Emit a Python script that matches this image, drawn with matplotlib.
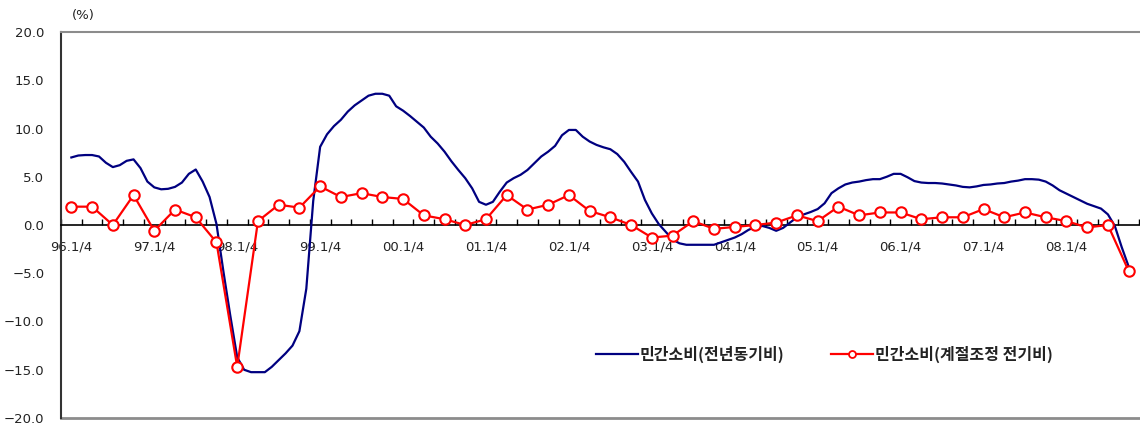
import numpy as np
import matplotlib.pyplot as plt

# years shown on the category axis (one label per Q1)
years = ['96', '97', '98', '99', '00', '01', '02', '03', '04', '05', '06', '07', '08']
tick_labels = [y + '.1/4' for y in years]

# 민간소비 계절조정 전기비, quarterly 96Q1 - 08Q4
qoq = [1.9, 1.9, 0.0, 3.1,
       -0.6, 1.6, 0.8, -1.8,
       -14.7, 0.4, 2.1, 1.8,
       4.0, 2.9, 3.3, 2.9,
       2.7, 1.0, 0.6, 0.0,
       0.6, 3.1, 1.6, 2.1,
       3.1, 1.45, 0.8, 0.0,
       -1.3, -1.1, 0.4, -0.4,
       -0.2, 0.0, 0.25, 1.0,
       0.4, 1.9, 1.0, 1.3,
       1.3, 0.6, 0.8, 0.8,
       1.65, 0.8, 1.3, 0.8,
       0.4, -0.25, 0.0, -4.75]

# 민간소비 전년동기비, monthly 96.3 - 08.12
yoy = [7.0, 7.2, 7.25, 7.25, 7.1, 6.45, 6.0, 6.2, 6.65, 6.8,
       5.9, 4.5, 3.9, 3.7, 3.75, 3.95, 4.4, 5.3, 5.75, 4.5,
       2.9, 0.1, -4.8, -9.4, -13.7, -15.0, -15.25, -15.25, -15.25, -14.7,
       -14.0, -13.3, -12.5, -11.0, -6.6, 2.5, 8.1, 9.4, 10.25, 10.9,
       11.75, 12.4, 12.9, 13.4, 13.6, 13.6, 13.4, 12.3, 11.85, 11.3,
       10.7, 10.1, 9.15, 8.45, 7.6, 6.6, 5.7, 4.85, 3.8, 2.4,
       2.1, 2.4, 3.45, 4.4, 4.85, 5.2, 5.7, 6.4, 7.1, 7.6,
       8.2, 9.3, 9.85, 9.85, 9.15, 8.65, 8.3, 8.05, 7.85, 7.35,
       6.55, 5.5, 4.5, 2.6, 1.2, 0.1, -0.7, -1.5, -1.9, -2.05,
       -2.05, -2.05, -2.05, -2.05, -1.8, -1.55, -1.3, -0.95, -0.5, -0.2,
       -0.1, -0.3, -0.6, -0.3, 0.25, 0.8, 1.1, 1.35, 1.65, 2.25,
       3.3, 3.8, 4.2, 4.4, 4.5, 4.65, 4.75, 4.75, 5.0, 5.3,
       5.3, 4.95, 4.55, 4.4, 4.35, 4.35, 4.3, 4.2, 4.1, 3.95,
       3.9, 4.0, 4.15, 4.2, 4.3, 4.35, 4.5, 4.6, 4.75, 4.75,
       4.7, 4.5, 4.1, 3.6, 3.25, 2.9, 2.55, 2.2, 1.95, 1.7,
       1.1, -0.1, -2.3, -4.3]

label_yoy = '민간소비(전년동기비)'
label_qoq = '민간소비(계절조정 전기비)'

x_q = np.arange(len(qoq))
x_m = np.arange(len(yoy)) / 3.0

fig = plt.figure(figsize=(11.4, 4.29), dpi=100)
ax = fig.add_axes([61 / 1140, 11 / 429, 1078 / 1140, 386 / 429])

ax.plot(x_m, yoy, color='#000080', lw=1.6, label=label_yoy, zorder=3)
ax.plot(x_q, qoq, color='#ff0000', lw=1.6, marker='o', ms=7.5, mfc='white',
        mec='#ff0000', mew=1.5, label=label_qoq, zorder=4)

ax.set_xlim(-0.5, len(qoq) - 0.5)
ax.set_ylim(-20, 20)

# y axis
ax.set_yticks(np.arange(-20, 21, 5))
ax.set_yticklabels([f'{v:.1f}'.replace('-', '\u2212') for v in np.arange(-20, 21, 5)])
ax.tick_params(axis='y', length=0, pad=12, labelsize=9.5, labelcolor='#222222')

# x axis sits on zero, small ticks between quarters
ax.spines['bottom'].set_position(('data', 0))
ax.spines['bottom'].set_color('black')
ax.spines['bottom'].set_linewidth(1.2)
ax.set_xticks(np.arange(0, len(qoq), 4))
ax.set_xticklabels(tick_labels)
ax.set_xticks(np.arange(-0.5, len(qoq), 1), minor=True)
ax.tick_params(axis='x', which='major', length=0, pad=11, labelsize=9.5,
               labelcolor='#222222')
ax.tick_params(axis='x', which='minor', length=4, width=1, direction='in',
               color='black')

ax.spines['left'].set_color('#333333')
ax.spines['left'].set_linewidth(1.5)
ax.spines['top'].set_color('#8c8c8c')
ax.spines['top'].set_linewidth(1.5)
ax.spines['right'].set_visible(False)
ax.axhline(-20, color='#8c8c8c', lw=2, clip_on=False, zorder=1)

fig.text(72 / 1140, 1 - 16 / 429, '(%)', fontsize=9.5, color='#222222',
         va='center', ha='left')

leg = fig.legend(loc='center left', bbox_to_anchor=(596 / 1140, 1 - 354 / 429),
                 ncol=2, frameon=False, borderpad=0, borderaxespad=0,
                 handlelength=2.6, handletextpad=0.15, columnspacing=2.9,
                 prop={'family': ['Noto Sans CJK KR', 'DejaVu Sans'],
                       'size': 11.5, 'weight': 'bold'})
for t in leg.get_texts():
    t.set_color('#222222')
# legend marker is drawn smaller than on the chart
leg.legend_handles[1].set_markersize(5)
leg.legend_handles[1].set_markeredgewidth(1.3)

fig.savefig('out.png', dpi=100)
